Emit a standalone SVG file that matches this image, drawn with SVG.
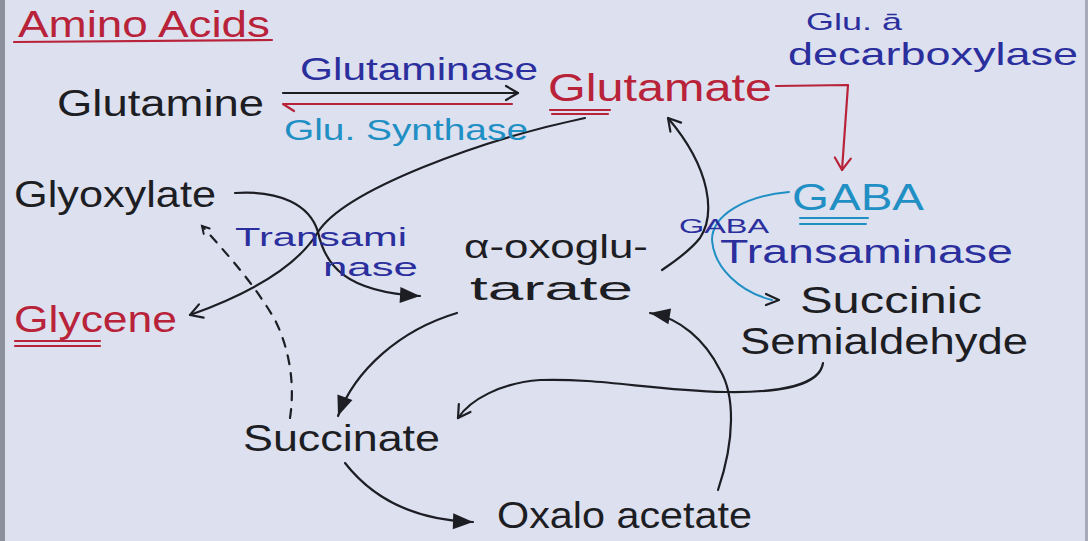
<svg xmlns="http://www.w3.org/2000/svg" width="1088" height="541" viewBox="0 0 1088 541">
<style>
text{font-family:"Liberation Sans","DejaVu Sans",sans-serif;}
.k{fill:#1d1d24;font-size:36px}
.r{fill:#b8233a;font-size:36px}
.b{fill:#2b2f9e;font-size:32px}
.t{fill:#1f8fc4;font-size:34px}
.ln{fill:none;stroke:#1d1d24;stroke-width:2.2;stroke-linecap:round;stroke-linejoin:round}
.rl{fill:none;stroke:#b8233a;stroke-width:2.2;stroke-linecap:round;stroke-linejoin:round}
.tl{fill:none;stroke:#1f8fc4;stroke-width:2;stroke-linecap:round;stroke-linejoin:round}
.dash{stroke-dasharray:9 9}
</style>
<defs>
<marker id="chev" markerUnits="userSpaceOnUse" markerWidth="30" markerHeight="30" viewBox="-15 -15 30 30" refX="0" refY="0" orient="auto"><path d="M-12,-7 L0,0 L-12,7" fill="none" stroke="#1d1d24" stroke-width="2.2" stroke-linecap="round" stroke-linejoin="round"/></marker>
<marker id="chevR" markerUnits="userSpaceOnUse" markerWidth="30" markerHeight="30" viewBox="-15 -15 30 30" refX="0" refY="0" orient="auto"><path d="M-12,-8 L0,0 L-12,8" fill="none" stroke="#b8233a" stroke-width="2.2" stroke-linecap="round" stroke-linejoin="round"/></marker>
<marker id="chevS" markerUnits="userSpaceOnUse" markerWidth="20" markerHeight="20" viewBox="-10 -10 20 20" refX="0" refY="0" orient="auto"><path d="M-7,-4 L0,0 L-7,4" fill="none" stroke="#1d1d24" stroke-width="2" stroke-linecap="round"/></marker>
<marker id="tri" markerUnits="userSpaceOnUse" markerWidth="30" markerHeight="30" viewBox="-25 -15 30 30" refX="0" refY="0" orient="auto"><path d="M-20,-8 L0,0 L-20,8 Z" fill="#1d1d24"/></marker>
</defs>
<rect x="0" y="0" width="1088" height="541" fill="#dde0ef"/>
<rect x="0" y="0" width="5" height="541" fill="#8d8f9c"/>
<rect x="1085" y="0" width="3" height="541" fill="#a9abb8"/>

<g id="connectors">
<path class="ln" d="M283,93 L518,93" marker-end="url(#chev)"/>
<path class="rl" d="M512,104 L283,104 L294,111"/>
<path class="rl" d="M776,86 L848,85 L842,170" marker-end="url(#chevR)"/>
<path class="ln" d="M662,270 C680,258 692,248 700,238 C715,215 712,170 668,118" marker-end="url(#chev)"/>
<path class="tl" d="M789,192 C745,196 712,215 712,240 C714,268 740,292 772,300"/>
<path class="ln" d="M766,294 L779,300 L766,305" stroke-width="2"/>
<path class="ln" d="M235,193 C280,190 310,205 318,232 C325,265 345,292 420,296" marker-end="url(#tri)"/>
<path class="ln" d="M585,118 C480,140 345,190 318,232 C300,262 260,290 190,315" marker-end="url(#chev)"/>
<path class="ln dash" d="M290,418 C295,385 290,350 275,320 C255,285 228,255 202,226" marker-end="url(#chevS)"/>
<path class="ln" d="M457,313 C400,330 355,370 338,416" marker-end="url(#tri)"/>
<path class="ln" d="M823,363 C820,385 780,393 725,392 C650,390 600,378 540,380 C500,383 470,400 458,418" marker-end="url(#chev)"/>
<path class="ln" d="M718,490 C735,440 735,395 720,370 C705,340 680,318 650,313" marker-end="url(#tri)"/>
<path class="ln" d="M345,463 C370,495 410,520 473,522" marker-end="url(#tri)"/>
</g>

<g id="title"><text class="r" x="18" y="37" textLength="252" lengthAdjust="spacingAndGlyphs">Amino Acids</text><path class="rl" d="M14,42 L272,40"/></g>
<g id="glutamine"><text class="k" x="57" y="116" textLength="207" lengthAdjust="spacingAndGlyphs">Glutamine</text></g>
<g id="glutaminase"><text class="b" x="300" y="80" textLength="238" lengthAdjust="spacingAndGlyphs">Glutaminase</text></g>
<g id="glu-synthase"><text class="t" style="font-size:30px" x="284" y="140" textLength="244" lengthAdjust="spacingAndGlyphs">Glu. Synthase</text></g>
<g id="glutamate"><text class="r" style="font-size:38px" x="548" y="101" textLength="224" lengthAdjust="spacingAndGlyphs">Glutamate</text><path class="rl" d="M550,110 L610,110 M552,114 L608,114"/></g>
<g id="glu-decarboxylase"><text class="b" style="font-size:24px" x="806" y="30" textLength="96" lengthAdjust="spacingAndGlyphs">Glu. ā</text><text class="b" style="font-size:32px" x="788" y="65" textLength="290" lengthAdjust="spacingAndGlyphs">decarboxylase</text></g>
<g id="gaba"><text class="t" style="font-size:36px" x="792" y="210" textLength="132" lengthAdjust="spacingAndGlyphs">GABA</text><path class="tl" d="M800,218 L868,218 M800,224 L866,224"/></g>
<g id="gaba-transaminase"><text class="b" style="font-size:21px" x="679" y="233" textLength="90" lengthAdjust="spacingAndGlyphs">GABA</text><text class="b" style="font-size:34px" x="720" y="263" textLength="293" lengthAdjust="spacingAndGlyphs">Transaminase</text></g>
<g id="succinic-semialdehyde"><text class="k" x="800" y="313" textLength="182" lengthAdjust="spacingAndGlyphs">Succinic</text><text class="k" x="740" y="354" textLength="288" lengthAdjust="spacingAndGlyphs">Semialdehyde</text></g>
<g id="alpha-oxoglutarate"><text class="k" style="font-size:34px" x="464" y="258" textLength="184" lengthAdjust="spacingAndGlyphs">α-oxoglu-</text><text class="k" style="font-size:34px" x="470" y="300" textLength="163" lengthAdjust="spacingAndGlyphs">tarate</text></g>
<g id="glyoxylate"><text class="k" x="14" y="207" textLength="202" lengthAdjust="spacingAndGlyphs">Glyoxylate</text></g>
<g id="transaminase"><text class="b" style="font-size:26px" x="235" y="246" textLength="172" lengthAdjust="spacingAndGlyphs">Transami</text><text class="b" style="font-size:26px" x="323" y="276" textLength="95" lengthAdjust="spacingAndGlyphs">nase</text></g>
<g id="glycene"><text class="r" x="14" y="332" textLength="163" lengthAdjust="spacingAndGlyphs">Glycene</text><path class="rl" d="M15,341 L100,341 M15,346 L100,346"/></g>
<g id="succinate"><text class="k" x="243" y="451" textLength="197" lengthAdjust="spacingAndGlyphs">Succinate</text></g>
<g id="oxaloacetate"><text class="k" x="497" y="528" textLength="255" lengthAdjust="spacingAndGlyphs">Oxalo acetate</text></g>
</svg>
